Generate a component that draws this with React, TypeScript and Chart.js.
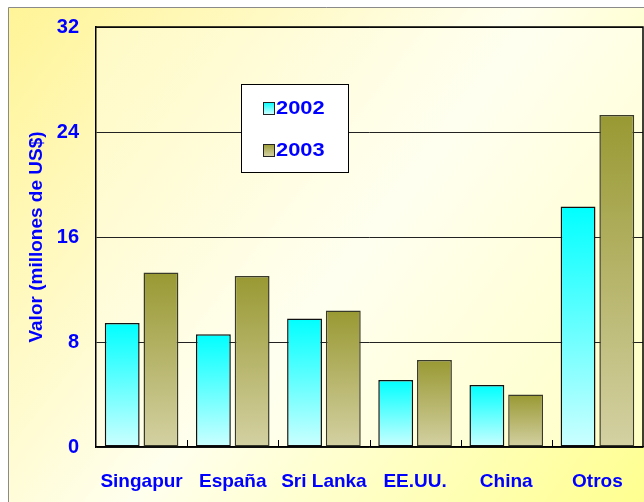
import React, { useEffect, useRef } from "react";
import { Chart, registerables } from "chart.js";

Chart.register(...registerables);

const categories = ["Singapur", "España", "Sri Lanka", "EE.UU.", "China", "Otros"];
const values2002 = [9.45, 8.6, 9.8, 5.1, 4.72, 18.33];
const values2003 = [13.3, 13.03, 10.4, 6.63, 4.0, 25.3];
const seriesLabels = ["2002", "2003"];
const yTicks = [0, 8, 16, 24, 32];
const yTitle = "Valor (millones de US$)";

const BLUE = "#0000FF";
const FONT = "'Liberation Sans', Arial, Helvetica, sans-serif";
const C2002 = ["#00FFFF", "#CCFFFF"];
const C2003 = ["#999933", "#D4D1A3"];

const makeFill = (colors: string[]) => (ctx: any) => {
  const chart = ctx.chart;
  if (!chart.chartArea || ctx.type !== "data") return colors[0];
  const y = chart.scales.y;
  const t = y.getPixelForValue(ctx.raw as number);
  const b = y.getPixelForValue(0);
  const g = chart.ctx.createLinearGradient(0, t, 0, b);
  g.addColorStop(0, colors[0]);
  g.addColorStop(1, colors[1]);
  return g;
};

const backgroundPlugin = {
  id: "bgPlugin",
  beforeDraw(chart: any) {
    const { ctx, width, height, chartArea } = chart;
    ctx.save();
    const g = ctx.createLinearGradient(0, 0, width, height);
    g.addColorStop(0, "#FFF497");
    g.addColorStop(0.5, "#FFFFEE");
    g.addColorStop(1, "#FFFF90");
    ctx.fillStyle = g;
    ctx.fillRect(0, 0, width, height);
    if (chartArea) {
      const { left, top, right, bottom } = chartArea;
      const pg = ctx.createLinearGradient(left, top, right, bottom);
      pg.addColorStop(0, "#FFFAC4");
      pg.addColorStop(0.5, "#FFFFF0");
      pg.addColorStop(1, "#FFFFC4");
      ctx.fillStyle = pg;
      ctx.fillRect(left, top, right - left, bottom - top);
    }
    ctx.strokeStyle = "#8a8a8a";
    ctx.lineWidth = 1;
    ctx.beginPath();
    ctx.moveTo(0.5, height);
    ctx.lineTo(0.5, 0.5);
    ctx.lineTo(width, 0.5);
    ctx.stroke();
    ctx.restore();
  },
  afterDatasetsDraw(chart: any) {
    const { ctx, chartArea } = chart;
    const { left, top, right, bottom } = chartArea;
    ctx.save();
    ctx.strokeStyle = "#000";
    ctx.lineWidth = 1.5;
    ctx.beginPath();
    ctx.moveTo(left, top);
    ctx.lineTo(right, top);
    ctx.lineTo(right, bottom);
    ctx.stroke();
    // inward category separators on the x axis
    const x = chart.scales.x;
    const n = categories.length;
    const w = (right - left) / n;
    ctx.lineWidth = 1;
    ctx.beginPath();
    for (let i = 1; i < n; i++) {
      const px = Math.round(x.getPixelForValue(i) - w / 2) + 0.5;
      ctx.moveTo(px, bottom);
      ctx.lineTo(px, bottom - 7);
    }
    ctx.stroke();

    // legend box
    const bx = left + 145;
    const by = top + 57;
    const bw = 107;
    const bh = 88;
    ctx.fillStyle = "#FFFFFF";
    ctx.fillRect(bx, by, bw, bh);
    ctx.strokeStyle = "#000";
    ctx.lineWidth = 1;
    ctx.strokeRect(bx + 0.5, by + 0.5, bw, bh);
    const items = [
      { label: seriesLabels[0], colors: C2002, cy: by + 24 },
      { label: seriesLabels[1], colors: C2003, cy: by + 66 },
    ];
    ctx.font = `bold 19px ${FONT}`;
    ctx.textBaseline = "middle";
    ctx.textAlign = "left";
    items.forEach((it) => {
      const sx = bx + 22;
      const sy = it.cy - 6;
      const sg = ctx.createLinearGradient(0, sy, 0, sy + 12);
      sg.addColorStop(0, it.colors[0]);
      sg.addColorStop(1, it.colors[1]);
      ctx.fillStyle = sg;
      ctx.fillRect(sx, sy, 11, 12);
      ctx.strokeStyle = "#222";
      ctx.strokeRect(sx + 0.5, sy + 0.5, 11, 12);
      ctx.fillStyle = BLUE;
      ctx.save();
      ctx.translate(bx + 35, it.cy + 1);
      ctx.scale(1.15, 1);
      ctx.fillText(it.label, 0, 0);
      ctx.restore();
    });
    ctx.restore();
  },
};

export default function App() {
  const ref = useRef<HTMLCanvasElement | null>(null);
  useEffect(() => {
    if (!ref.current) return;
    const chart = new Chart(ref.current, {
      type: "bar",
      data: {
        labels: categories,
        datasets: [
          {
            label: seriesLabels[0],
            data: values2002,
            backgroundColor: makeFill(C2002),
            borderColor: "#111",
            borderWidth: 1.5,
            borderSkipped: false,
            categoryPercentage: 0.85,
            barPercentage: 0.9,
          },
          {
            label: seriesLabels[1],
            data: values2003,
            backgroundColor: makeFill(C2003),
            borderColor: "#3a3a2a",
            borderWidth: 1.5,
            borderSkipped: false,
            categoryPercentage: 0.85,
            barPercentage: 0.9,
          },
        ],
      },
      options: {
        responsive: false,
        animation: false,
        layout: { padding: { top: 20, right: 1, left: 0, bottom: 0 } },
        plugins: {
          legend: { display: false },
          tooltip: { enabled: false },
        },
        scales: {
          x: {
            grid: { display: false },
            border: { display: true, color: "#000", width: 1.5 },
            ticks: {
              color: BLUE,
              font: { family: FONT, size: 19, weight: "bold" },
              padding: 15,
              maxRotation: 0,
            },
            afterFit: (s: any) => {
              s.height = 55;
              s.paddingLeft = 0;
              s.paddingRight = 0;
            },
          },
          y: {
            min: 0,
            max: 32,
            grid: { color: "#222", lineWidth: 1, drawTicks: false },
            border: { display: true, color: "#000", width: 1.5 },
            afterBuildTicks: (s: any) => {
              s.ticks = yTicks.map((v) => ({ value: v }));
            },
            ticks: {
              color: BLUE,
              font: { family: FONT, size: 20, weight: "bold" },
              padding: 17,
            },
            title: {
              display: true,
              text: yTitle,
              color: BLUE,
              font: { family: FONT, size: 19, weight: "bold" },
              padding: { top: 17, bottom: 0 },
            },
            afterFit: (s: any) => {
              s.width = 88;
              s.paddingTop = 0;
              s.paddingBottom = 0;
            },
          },
        },
      },
      plugins: [backgroundPlugin],
    });
    return () => chart.destroy();
  }, []);
  return (
    <div style={{ position: "fixed", left: 8, top: 7, width: 636, height: 495 }}>
      <canvas ref={ref} width={636} height={495} />
    </div>
  );
}
